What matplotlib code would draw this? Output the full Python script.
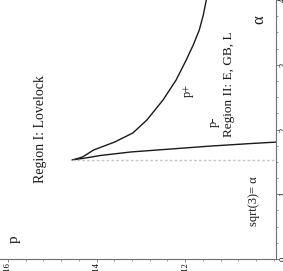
import numpy as np
import matplotlib.pyplot as plt
from matplotlib.ticker import MultipleLocator

# curve data (alpha, p)
alpha_plus = [1.529, 1.575, 1.683, 1.807, 1.946, 2.147, 2.456, 2.764, 3.073, 3.305, 3.537, 3.768, 4.0]
p_plus = [0.14545, 0.14318, 0.14068, 0.13591, 0.13182, 0.12864, 0.1250,
          0.12205, 0.11977, 0.11818, 0.11682, 0.11591, 0.11523]

alpha_minus = [1.529, 1.560, 1.599, 1.653, 1.699, 1.745, 1.784, 1.807]
p_minus = [0.14545, 0.14250, 0.13909, 0.13227, 0.12318, 0.11409, 0.10500, 0.09909]

alpha_cusp = 1.529
p_cusp = 0.14545

p_ticks = [0.16, 0.14, 0.12]
p_ticklabels = ['0.16', '0.14', '0.12']
alpha_ticks = [0, 1, 2, 3, 4]
alpha_ticklabels = ['0', '1', '2', '3', '4']

plt.rcParams['font.family'] = ['Liberation Serif', 'DejaVu Serif']

fig = plt.figure(figsize=(2.83, 2.71), dpi=100)
# chart is drawn turned a quarter: p runs right-to-left along the bottom, alpha up the right side
ax = fig.add_axes([0.0, 12 / 271, 276 / 283, 259 / 271])

ax.plot(p_plus, alpha_plus, color='#1a1a1a', lw=1.0)
ax.plot(p_minus, alpha_minus, color='#1a1a1a', lw=1.0)
ax.plot([p_cusp, 0.0995], [alpha_cusp, alpha_cusp], color='#c8c8c8', lw=1.0, ls=(0, (2, 1.5)))

ax.set_xlim(0.1618, 0.0995)
ax.set_ylim(0, 4.0)

for s in ['top', 'left']:
    ax.spines[s].set_visible(False)
for s in ['bottom', 'right']:
    ax.spines[s].set_color('#707070')
    ax.spines[s].set_linewidth(0.8)

ax.yaxis.tick_right()
ax.set_xticks(p_ticks)
ax.set_xticklabels(p_ticklabels, rotation=90, fontsize=6, va='top')
ax.set_yticks(alpha_ticks)
ax.set_yticklabels(alpha_ticklabels, rotation=90, fontsize=6, va='center')
ax.xaxis.set_minor_locator(MultipleLocator(0.004))
ax.yaxis.set_minor_locator(MultipleLocator(0.25))
ax.tick_params(which='major', length=2, width=0.6, color='#707070', pad=0.3)
ax.tick_params(which='minor', length=1.5, width=0.5, color='#707070')

txt = dict(rotation=90, color='#1a1a1a', ha='center', va='center')
ax.text(0.1585, 0.3, 'p', fontsize=11, **txt)
ax.text(0.1527, 2.0, 'Region I: Lovelock', fontsize=10, **txt)
ax.text(0.1193, 2.6, 'p+', fontsize=9, **txt)
ax.text(0.1100, 2.7, 'Region II: E, GB, L', fontsize=9.5, **txt)
ax.text(0.1136, 2.12, 'p-', fontsize=9, **txt)
ax.text(0.1045, 0.9, 'sqrt(3)= α', fontsize=9, **txt)
ax.text(0.1032, 3.69, 'α', fontsize=12, **txt)

fig.savefig('out.png', dpi=100)
